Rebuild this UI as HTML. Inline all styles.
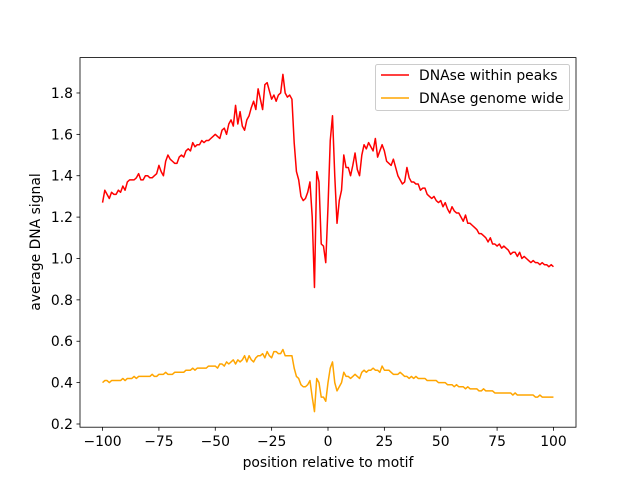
<!DOCTYPE html>
<html><head><meta charset="utf-8"><style>
body{margin:0;background:#fff}
svg{display:block;font-family:"DejaVu Sans","Liberation Sans",sans-serif}
</style></head><body>
<svg id="chart" width="640" height="480" viewBox="0 0 640 480"></svg>
<script>
const xTicks=[-100,-75,-50,-25,0,25,50,75,100];
const yTicks=[0.2,0.4,0.6,0.8,1.0,1.2,1.4,1.6,1.8];
const peaks=[1.27,1.33,1.31,1.29,1.32,1.31,1.31,1.33,1.32,1.35,1.33,1.37,1.38,1.38,1.38,1.39,1.41,1.38,1.38,1.40,
1.40,1.39,1.39,1.40,1.41,1.45,1.42,1.40,1.47,1.50,1.48,1.47,1.46,1.46,1.49,1.50,1.49,1.52,1.53,1.52,
1.56,1.54,1.55,1.55,1.57,1.56,1.57,1.57,1.58,1.59,1.60,1.59,1.58,1.62,1.63,1.60,1.65,1.67,1.64,1.74,
1.65,1.71,1.64,1.62,1.67,1.69,1.73,1.76,1.72,1.82,1.77,1.72,1.84,1.85,1.81,1.77,1.79,1.76,1.79,1.80,
1.89,1.80,1.78,1.79,1.77,1.56,1.42,1.38,1.30,1.28,1.29,1.32,1.37,1.20,0.86,1.42,1.37,1.07,1.06,0.98,
1.25,1.57,1.69,1.40,1.17,1.28,1.33,1.50,1.44,1.44,1.40,1.45,1.51,1.43,1.40,1.50,1.55,1.53,1.56,1.54,
1.52,1.58,1.49,1.52,1.55,1.52,1.47,1.46,1.45,1.48,1.44,1.40,1.38,1.36,1.37,1.44,1.39,1.37,1.37,1.36,
1.36,1.33,1.34,1.34,1.31,1.30,1.29,1.30,1.28,1.27,1.28,1.25,1.27,1.24,1.22,1.25,1.23,1.22,1.22,1.20,
1.18,1.21,1.17,1.17,1.16,1.15,1.14,1.12,1.12,1.11,1.10,1.08,1.10,1.07,1.07,1.06,1.07,1.05,1.06,1.05,
1.04,1.02,1.03,1.03,1.01,1.03,1.00,1.01,1.00,0.99,0.98,0.99,0.98,0.98,0.97,0.98,0.97,0.97,0.96,0.97,0.96];
const genome=[0.40,0.41,0.41,0.40,0.41,0.41,0.41,0.41,0.41,0.42,0.41,0.42,0.42,0.42,0.43,0.42,0.43,0.43,0.43,0.43,
0.43,0.43,0.44,0.43,0.43,0.44,0.44,0.44,0.45,0.44,0.44,0.44,0.45,0.45,0.45,0.45,0.45,0.46,0.46,0.46,
0.47,0.46,0.47,0.47,0.47,0.47,0.47,0.48,0.48,0.48,0.48,0.47,0.49,0.49,0.48,0.50,0.49,0.50,0.51,0.49,
0.51,0.50,0.51,0.53,0.50,0.53,0.51,0.50,0.52,0.53,0.53,0.54,0.52,0.55,0.53,0.52,0.55,0.55,0.54,0.54,
0.56,0.53,0.53,0.53,0.53,0.47,0.43,0.42,0.39,0.38,0.38,0.39,0.41,0.33,0.26,0.42,0.40,0.33,0.33,0.31,
0.40,0.47,0.50,0.40,0.36,0.38,0.40,0.45,0.43,0.43,0.42,0.43,0.44,0.43,0.42,0.45,0.46,0.45,0.46,0.46,
0.47,0.46,0.46,0.45,0.48,0.46,0.46,0.46,0.45,0.44,0.44,0.44,0.45,0.44,0.43,0.43,0.42,0.43,0.42,0.43,
0.42,0.42,0.42,0.42,0.41,0.41,0.41,0.41,0.41,0.40,0.40,0.40,0.40,0.39,0.39,0.39,0.38,0.39,0.38,0.38,
0.38,0.37,0.38,0.37,0.37,0.37,0.37,0.36,0.36,0.37,0.36,0.36,0.36,0.36,0.35,0.35,0.35,0.35,0.35,0.35,
0.35,0.35,0.34,0.35,0.34,0.34,0.34,0.34,0.34,0.34,0.34,0.34,0.33,0.33,0.34,0.33,0.33,0.33,0.33,0.33,0.33];
const L=80,R=576,T=57.6,B=427.2,XMIN=-110,XMAX=110,YMIN=0.1845,YMAX=1.971;
const FS=13.9;
const sx=v=>L+(v-XMIN)/(XMAX-XMIN)*(R-L);
const sy=v=>B-(v-YMIN)/(YMAX-YMIN)*(B-T);
const NS="http://www.w3.org/2000/svg";
const svg=document.getElementById('chart');
function mk(tag,attrs,parent){const e=document.createElementNS(NS,tag);for(const k in attrs)e.setAttribute(k,attrs[k]);(parent||svg).appendChild(e);return e;}
function series(arr,color,name){
  const pts=arr.map((v,i)=>sx(-100+i).toFixed(2)+','+sy(v).toFixed(2)).join(' ');
  const p=mk('polyline',{points:pts,fill:'none',stroke:color,'stroke-width':1.5,'stroke-linejoin':'round'});
  
  
}
series(peaks,'#ff0000','line-dnase-within-peaks');
series(genome,'#ffa500','line-dnase-genome-wide');
const ax=mk('rect',{x:L,y:T,width:R-L,height:B-T,fill:'none',stroke:'#000','stroke-width':0.8});


xTicks.forEach(t=>{
  const x=sx(t);
  mk('line',{x1:x,x2:x,y1:B,y2:B+3.5,stroke:'#000','stroke-width':0.8});
  const tx=mk('text',{x:x,y:B+19,'font-size':FS,'text-anchor':'middle',fill:'#000'});
  tx.textContent=String(t).replace('-','\u2212');
  
  
});
yTicks.forEach(t=>{
  const y=sy(t);
  mk('line',{x1:L-3.5,x2:L,y1:y,y2:y,stroke:'#000','stroke-width':0.8});
  const tx=mk('text',{x:L-7,y:y+5,'font-size':FS,'text-anchor':'end',fill:'#000'});
  tx.textContent=t.toFixed(1);
  
  
});
const xl=mk('text',{x:(L+R)/2,y:467,'font-size':FS,'text-anchor':'middle'});
xl.textContent='position relative to motif';


const yl=mk('text',{x:0,y:0,'font-size':FS,'text-anchor':'middle',transform:'translate(40,242) rotate(-90)'});
yl.textContent='average DNA signal';


const lg=mk('g',{});


mk('rect',{x:375.5,y:64.5,width:194,height:46,rx:2,fill:'#fff','fill-opacity':0.8,stroke:'#ccc','stroke-width':1},lg);
[['DNAse within peaks','#ff0000',75],['DNAse genome wide','#ffa500',98]].forEach(([lab,c,y])=>{
  mk('line',{x1:381,x2:409,y1:y,y2:y,stroke:c,'stroke-width':1.5},lg);
  const t=mk('text',{x:419,y:y+5,'font-size':FS},lg);
  t.textContent=lab;
  
  
});
</script>
</body></html>
